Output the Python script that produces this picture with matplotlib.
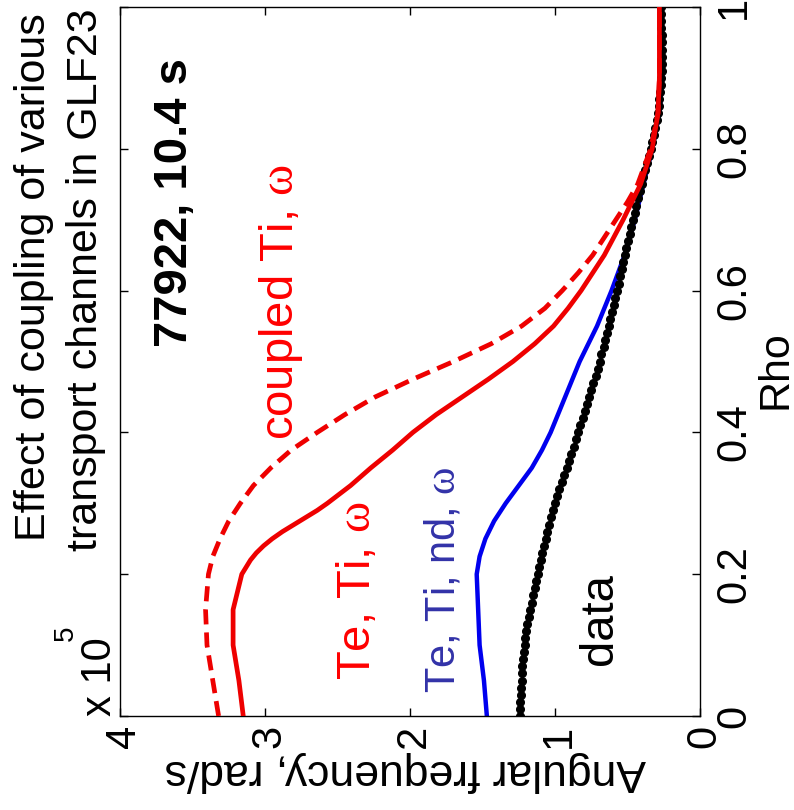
import matplotlib
matplotlib.use("Agg")
import matplotlib.pyplot as plt
from matplotlib.transforms import blended_transform_factory, offset_copy

plt.rcParams['font.family'] = ['Liberation Sans', 'DejaVu Sans']
plt.rcParams['mathtext.fontset'] = 'custom'
plt.rcParams['mathtext.rm'] = 'Liberation Serif'
plt.rcParams['mathtext.it'] = 'Liberation Serif:italic'

# ---- profiles (angular frequency in units of 1e5 rad/s vs normalized radius) ----
rho_coupled = [0.00, 0.05, 0.10, 0.15, 0.20, 0.225, 0.25, 0.275, 0.30, 0.325, 0.35,
               0.375, 0.40, 0.425, 0.45, 0.475, 0.50, 0.525, 0.55, 0.575, 0.60,
               0.625, 0.65, 0.675, 0.70, 0.725, 0.75, 0.80, 0.85, 0.90, 0.95, 1.00]
omega_coupled = [3.32, 3.36, 3.40, 3.41, 3.39, 3.36, 3.31, 3.25, 3.17, 3.08, 2.96,
                 2.82, 2.64, 2.45, 2.24, 1.98, 1.70, 1.44, 1.23, 1.07, 0.95,
                 0.84, 0.74, 0.66, 0.58, 0.50, 0.43, 0.34, 0.29, 0.28, 0.28, 0.28]

rho_te_ti = [0.00, 0.05, 0.10, 0.15, 0.20, 0.21, 0.22, 0.23, 0.24, 0.25, 0.26, 0.27,
             0.28, 0.29, 0.30, 0.325, 0.35, 0.375, 0.40, 0.425, 0.45, 0.475, 0.50,
             0.525, 0.55, 0.575, 0.60, 0.625, 0.65, 0.70, 0.75, 0.80, 0.85, 0.90,
             0.95, 1.00]
omega_te_ti = [3.15, 3.18, 3.22, 3.22, 3.16, 3.13, 3.10, 3.06, 3.01, 2.95, 2.88, 2.80,
               2.72, 2.64, 2.57, 2.41, 2.27, 2.12, 1.98, 1.82, 1.64, 1.46, 1.29,
               1.14, 1.01, 0.91, 0.82, 0.74, 0.66, 0.53, 0.41, 0.33, 0.29, 0.28,
               0.28, 0.28]

rho_te_ti_nd = [0.00, 0.05, 0.10, 0.15, 0.20, 0.225, 0.25, 0.275, 0.30, 0.325, 0.35,
                0.375, 0.40, 0.45, 0.50, 0.55, 0.60, 0.65, 0.70, 0.75, 0.80, 0.85,
                0.90, 0.95, 1.00]
omega_te_ti_nd = [1.47, 1.49, 1.52, 1.53, 1.54, 1.52, 1.48, 1.42, 1.34, 1.25, 1.16,
                  1.09, 1.03, 0.93, 0.83, 0.71, 0.61, 0.52, 0.45, 0.39, 0.33, 0.28,
                  0.26, 0.27, 0.28]

rho_data = [i / 100 for i in range(101)]
omega_data = [1.240, 1.240, 1.240, 1.235, 1.235, 1.230, 1.230, 1.225, 1.220, 1.215,
              1.210, 1.205, 1.200, 1.190, 1.180, 1.170, 1.160, 1.150, 1.140, 1.130,
              1.120, 1.110, 1.100, 1.090, 1.075, 1.065, 1.055, 1.040, 1.030, 1.015,
              1.000, 0.985, 0.970, 0.955, 0.940, 0.920, 0.905, 0.890, 0.870, 0.855,
              0.840, 0.825, 0.810, 0.795, 0.780, 0.765, 0.750, 0.735, 0.720, 0.705,
              0.690, 0.680, 0.665, 0.655, 0.640, 0.630, 0.620, 0.605, 0.595, 0.585,
              0.570, 0.560, 0.550, 0.540, 0.530, 0.520, 0.510, 0.500, 0.485, 0.475,
              0.460, 0.450, 0.440, 0.425, 0.415, 0.400, 0.390, 0.380, 0.365, 0.355,
              0.340, 0.330, 0.320, 0.310, 0.300, 0.290, 0.285, 0.280, 0.275, 0.270,
              0.270, 0.265, 0.265, 0.265, 0.265, 0.265, 0.265, 0.270, 0.270, 0.270,
              0.270]

omega_ticks = [0, 1, 2, 3, 4]
omega_ticklabels = ['0', '1', '2', '3', '4']
rho_ticks = [0, 0.2, 0.4, 0.6, 0.8, 1.0]
rho_ticklabels = ['0', '0.2', '0.4', '0.6', '0.8', '1']

W, H = 794, 810
fig = plt.figure(figsize=(W / 100, H / 100), dpi=100)
ax = fig.add_axes([120 / W, 1 - 716 / H, 580 / W, 709 / H])


def px(x, y):
    return x / W, 1 - y / H


# ---- curves ----
ax.plot(omega_te_ti_nd, rho_te_ti_nd, color='#0000ee', lw=3.2, zorder=2,
        solid_joinstyle='round')
ax.plot(omega_data, rho_data, color='black', lw=1.0, marker='o', ms=5.5,
        mfc='black', mec='black', zorder=3)
ax.plot(omega_coupled, rho_coupled, color='#ee0000', lw=3.4,
        linestyle=(0, (3.2, 1.7)), zorder=4)
ax.plot(omega_te_ti, rho_te_ti, color='#ee0000', lw=3.4, zorder=5,
        solid_joinstyle='round')

ax.set_xlim(4, 0)
ax.set_ylim(0, 1)
ax.set_xticks(omega_ticks)
ax.set_yticks(rho_ticks)
ax.tick_params(direction='in', length=6, width=1, top=True, right=True,
               labelbottom=False, labelleft=False)
for s in ax.spines.values():
    s.set_linewidth(1.0)

# ---- tick labels ----
tick_fs = 30
trans_x = blended_transform_factory(ax.transData, ax.transAxes)
for v, lab in zip(omega_ticks, omega_ticklabels):
    ax.text(v, 0, lab, fontsize=tick_fs, rotation=90, rotation_mode='anchor',
            ha='right', va='baseline',
            transform=offset_copy(trans_x, fig, x=0.36 * tick_fs, y=-6.5, units='points'))

trans_y = blended_transform_factory(ax.transAxes, ax.transData)
for v, lab in zip(rho_ticks, rho_ticklabels):
    ax.text(1, v, lab, fontsize=tick_fs, rotation=90, rotation_mode='anchor',
            ha='center', va='baseline',
            transform=offset_copy(trans_y, fig, x=32.4, y=0, units='points'))

# scale factor of the frequency axis
fig.text(*px(111, 716), 'x 10', fontsize=tick_fs, rotation=90,
         rotation_mode='anchor', ha='left', va='baseline')
fig.text(*px(73, 641), '5', fontsize=20, rotation=90,
         rotation_mode='anchor', ha='left', va='baseline')

# ---- axis labels ----
fig.text(*px(405, 760), 'Angular frequency, rad/s', fontsize=32, rotation=180,
         rotation_mode='anchor', ha='center', va='baseline')
fig.text(*px(786, 370), 'Rho', fontsize=31, rotation=90,
         rotation_mode='anchor', ha='center', va='baseline')

# ---- title ----
fig.text(*px(45, 277), 'Effect of coupling of various', fontsize=31, rotation=90,
         rotation_mode='anchor', ha='center', va='baseline')
fig.text(*px(97, 280), 'transport channels in GLF23', fontsize=31, rotation=90,
         rotation_mode='anchor', ha='center', va='baseline')

# ---- annotations ----
fig.text(*px(187, 347), '77922, 10.4 s', fontsize=34, fontweight='bold',
         rotation=90, rotation_mode='anchor', ha='left', va='baseline')
fig.text(*px(293, 440), r'coupled Ti, $\mathrm{\omega}$', fontsize=34, color='#ff0000',
         rotation=90, rotation_mode='anchor', ha='left', va='baseline')
fig.text(*px(370, 680), r'Te, Ti, $\mathrm{\omega}$', fontsize=34, color='#ff0000',
         rotation=90, rotation_mode='anchor', ha='left', va='baseline')
fig.text(*px(455, 693), r'Te, Ti, nd, $\mathrm{\omega}$', fontsize=30, color='#3232a8',
         rotation=90, rotation_mode='anchor', ha='left', va='baseline')
fig.text(*px(612, 665), 'data', fontsize=34, color='black',
         rotation=90, rotation_mode='anchor', ha='left', va='baseline')

fig.savefig('out.png', dpi=100)
